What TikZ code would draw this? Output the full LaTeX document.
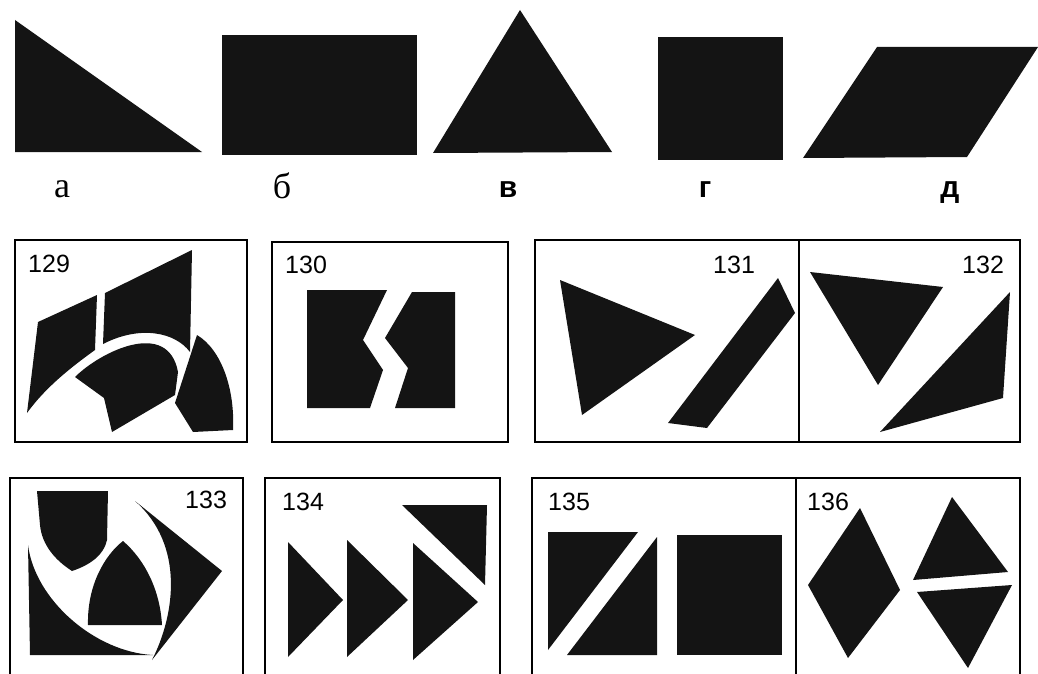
\documentclass[tikz,border=0pt]{standalone}
\usepackage{fontspec}
\setmainfont{Liberation Serif}
\newfontfamily\numfont{Liberation Sans}

\begin{document}
\begin{tikzpicture}[
		x=1pt, y=-1pt,
		piece/.style={fill=black!92},
		frame/.style={draw, line width=2.6pt},
		num/.style={font=\numfont\fontsize{25}{25}\selectfont, anchor=base west, inner sep=0pt},
		letter/.style={font=\fontsize{36}{36}\selectfont, anchor=base, inner sep=0pt},
		sletter/.style={font=\numfont\bfseries\fontsize{30}{30}\selectfont, anchor=base, inner sep=0pt}
		]
		
		\useasboundingbox (0,0) rectangle (1038,674);
		\clip (0,0) rectangle (1038,674);
		
		% top row: the five shapes
		\fill[piece] (15,20) -- (202,152) -- (15,152) -- cycle;
		\fill[piece] (222,35) rectangle (417,155);
		\fill[piece] (433,153) -- (520,10) -- (612,152) -- cycle;
		\fill[piece] (658,37) rectangle (783,160);
		\fill[piece] (803,158) -- (877,47) -- (1038,47) -- (967,157) -- cycle;
		
		\node[letter] (la) at (62,197) {а};
		\node[letter] (lb) at (282,198) {б};
		\node[sletter] (lv) at (508,197) {в};
		\node[sletter] (lg) at (705,197) {г};
		\node[sletter] (ld) at (950,197) {д};
		
		% middle row
		\draw[frame] (15,240) rectangle (247,442);
		\draw[frame] (272,242) rectangle (508,442);
		\draw[frame] (535,240) rectangle (1020,442);
		\draw[frame] (799,240) -- (799,442);
		
		\node[num] (n129) at (28,272) {129};
		\node[num] (n130) at (285,273) {130};
		\node[num] (n131) at (713,273) {131};
		\node[num] (n132) at (962,273) {132};
		
		% 129
		\fill[piece] (38,322) -- (97,295) -- (95,350) .. controls (70,368) and (45,388) .. (27,413) -- cycle;
		\fill[piece] (105,293) -- (192,250) -- (190,352) .. controls (175,332) and (140,325) .. (103,344) -- cycle;
		\fill[piece] (75,377) .. controls (100,352) and (168,318) .. (178,372) -- (175,395) -- (112,432) -- (104,398) -- cycle;
		\fill[piece] (197,335) .. controls (222,350) and (235,390) .. (233,430) -- (193,432) -- (175,403) -- cycle;
		
		% 130
		\fill[piece] (307,290) -- (387,290) -- (363,340) -- (383,370) -- (370,408) -- (307,408) -- cycle;
		\fill[piece] (412,292) -- (455,292) -- (455,408) -- (395,408) -- (408,368) -- (385,338) -- cycle;
		
		% 131
		\fill[piece] (560,280) -- (695,335) -- (582,415) -- cycle;
		\fill[piece] (778,278) -- (795,313) -- (707,428) -- (668,423) -- cycle;
		
		% 132
		\fill[piece] (810,272) -- (943,287) -- (878,385) -- cycle;
		\fill[piece] (1010,292) -- (1003,398) -- (880,432) -- cycle;
		
		% bottom row
		\draw[frame] (10,478) rectangle (243,690);
		\draw[frame] (265,478) rectangle (500,690);
		\draw[frame] (532,478) rectangle (1020,690);
		\draw[frame] (796,478) -- (796,690);
		
		\node[num] (n133) at (185,508) {133};
		\node[num] (n134) at (282,510) {134};
		\node[num] (n135) at (548,510) {135};
		\node[num] (n136) at (807,510) {136};
		
		% 133
		\fill[piece] (37,491) -- (108,491) -- (107,540) .. controls (104,555) and (90,565) .. (72,571)
			.. controls (55,560) and (42,545) .. (40,525) -- cycle;
		\fill[piece] (88,625) .. controls (87,585) and (105,555) .. (123,541)
			.. controls (145,560) and (160,590) .. (162,625) -- cycle;
		\fill[piece] (28,545) -- (30,655) -- (153,655) .. controls (95,652) and (35,600) .. (28,545) -- cycle;
		\fill[piece] (135,501) -- (222,571) -- (152,660) .. controls (175,615) and (185,545) .. (135,501) -- cycle;
		
		% 134
		\fill[piece] (288,542) -- (343,600) -- (288,657) -- cycle;
		\fill[piece] (347,540) -- (408,600) -- (347,657) -- cycle;
		\fill[piece] (413,543) -- (478,602) -- (413,660) -- cycle;
		\fill[piece] (402,505) -- (487,505) -- (485,585) -- cycle;
		
		% 135
		\fill[piece] (548,532) -- (638,532) -- (548,650) -- cycle;
		\fill[piece] (657,537) -- (657,655) -- (567,655) -- cycle;
		\fill[piece] (677,535) rectangle (782,655);
		
		% 136
		\fill[piece] (860,508) -- (900,590) -- (848,658) -- (808,585) -- cycle;
		\fill[piece] (952,497) -- (1008,572) -- (913,580) -- cycle;
		\fill[piece] (917,592) -- (1012,585) -- (968,668) -- cycle;
		
	\end{tikzpicture}
\end{document}
